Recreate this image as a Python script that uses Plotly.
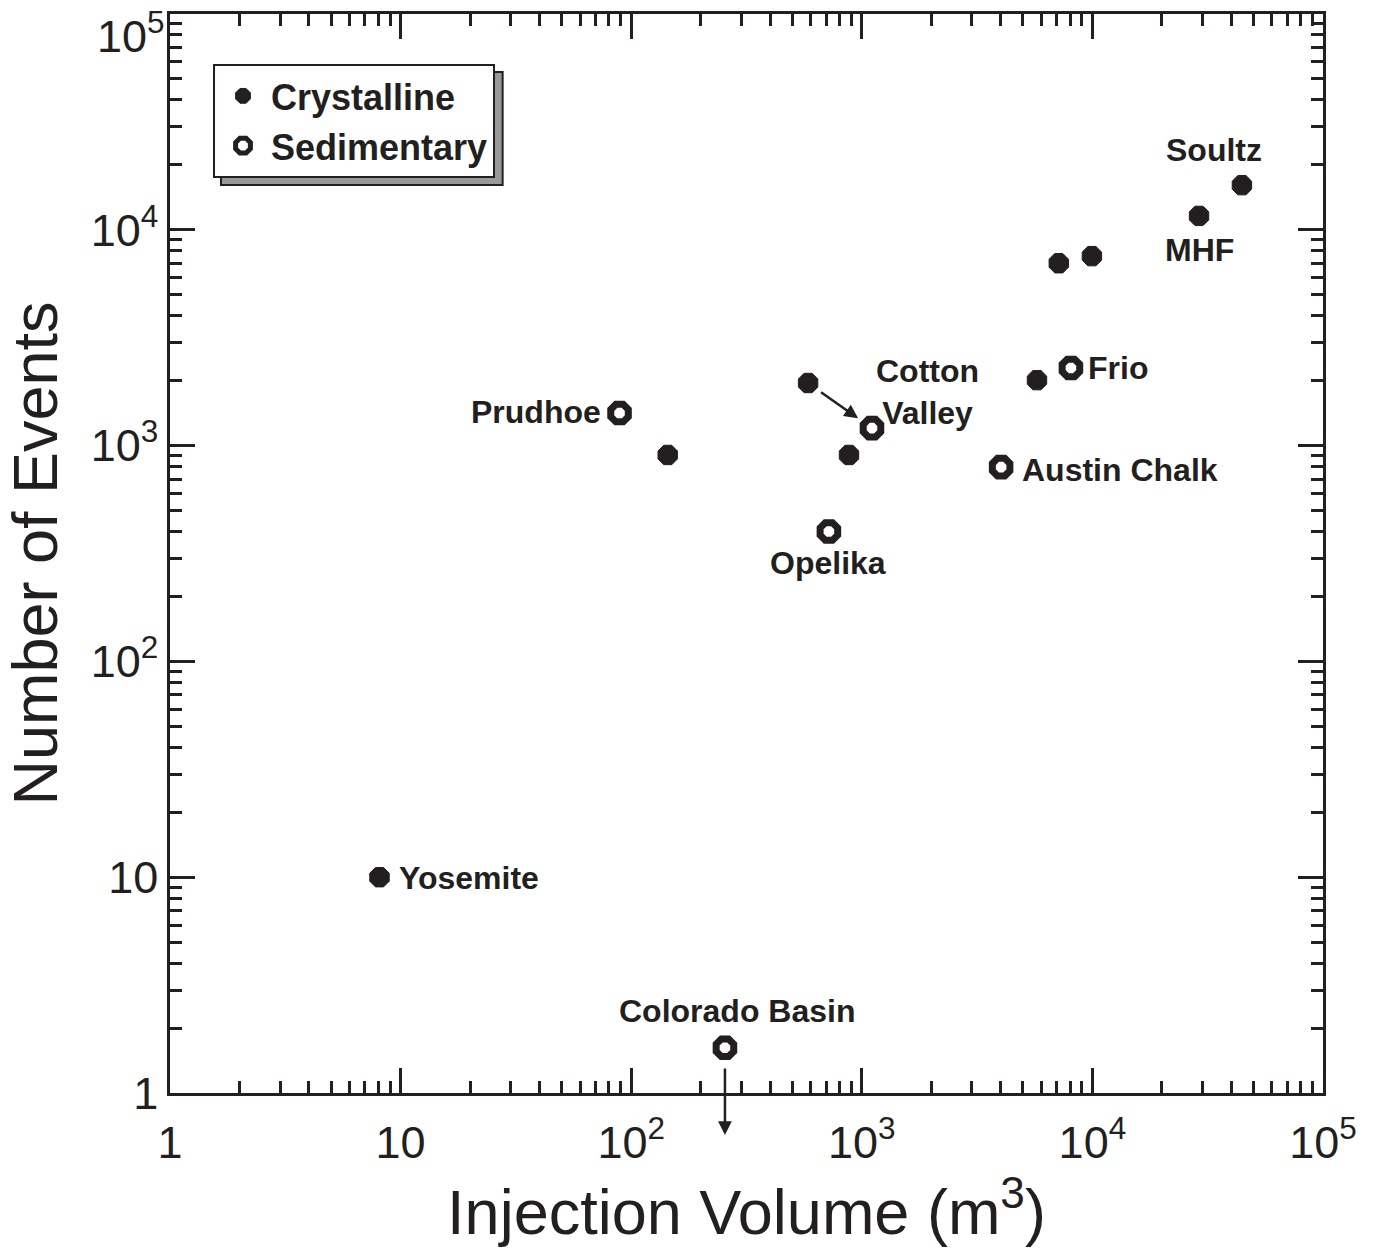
import numpy as np
import plotly.graph_objects as go

# Induced seismicity: injected volume vs. number of recorded events
cryst_x = [8.1, 144, 585, 880, 5750, 7150, 9950, 29000, 44500]
cryst_y = [10, 905, 1950, 905, 2010, 7000, 7550, 11600, 16100]

sed_x = [89, 1107, 720, 4020, 8070, 255]
sed_y = [1415, 1205, 400, 795, 2290, 1.62]

# labelled sites
site_names = ["Yosemite", "MHF", "Soultz", "Prudhoe", "Cotton<br>Valley",
              "Opelika", "Austin Chalk", "Frio", "Colorado Basin"]
site_x = [8.1, 29000, 44500, 89, 1107, 720, 4020, 8070, 255]
site_y = [10, 11600, 16100, 1415, 1205, 400, 795, 2290, 1.62]

tick_vals = [1, 10, 100, 1000, 10000, 100000]
tick_text = ["1", "10", "10<sup>2</sup>", "10<sup>3</sup>", "10<sup>4</sup>", "10<sup>5</sup>"]
minor_vals = [m * 10 ** d for d in range(5) for m in range(2, 10)]

INK = "#231f20"
FONT = "Liberation Sans, Arial, Helvetica, sans-serif"

fig = go.Figure()
fig.add_trace(go.Scatter(
    x=cryst_x, y=cryst_y, mode="markers", name="Crystalline",
    marker=dict(symbol="octagon", size=21, color=INK, line=dict(width=1, color=INK)),
))
fig.add_trace(go.Scatter(
    x=sed_x, y=sed_y, mode="markers", name="Sedimentary",
    marker=dict(symbol="octagon", size=19, color="white", line=dict(width=7, color=INK)),
))

# label placement relative to each point (pixels)
label_pos = {
    "Yosemite": dict(xanchor="left", xshift=17, yshift=-1),
    "MHF": dict(xanchor="center", xshift=0, yshift=-34),
    "Soultz": dict(xanchor="center", xshift=-28, yshift=35),
    "Prudhoe": dict(xanchor="right", xshift=-17, yshift=1),
    "Cotton<br>Valley": dict(xanchor="center", xshift=56, yshift=36),
    "Opelika": dict(xanchor="center", xshift=-1, yshift=-32),
    "Austin Chalk": dict(xanchor="left", xshift=19, yshift=-3),
    "Frio": dict(xanchor="left", xshift=15, yshift=0),
    "Colorado Basin": dict(xanchor="center", xshift=12, yshift=37),
}
for name, xv, yv in zip(site_names, site_x, site_y):
    p = label_pos[name]
    fig.add_annotation(
        x=np.log10(xv), y=np.log10(yv), xref="x", yref="y", text=name,
        showarrow=False, xanchor=p["xanchor"], yanchor="middle",
        xshift=p["xshift"], yshift=p["yshift"], align="center",
        font=dict(family=FONT, size=32, color=INK, weight="bold"),
    )

# Cotton Valley: arrow from crystalline point to sedimentary point
fig.add_annotation(
    x=np.log10(sed_x[1]), y=np.log10(sed_y[1]), xref="x", yref="y",
    ax=np.log10(cryst_x[2]), ay=np.log10(cryst_y[2]), axref="x", ayref="y",
    showarrow=True, arrowhead=2, arrowsize=1.1, arrowwidth=2.5, arrowcolor=INK,
    standoff=17, startstandoff=14, text="",
)
# Colorado Basin: upper bound arrow pointing below the axis
fig.add_annotation(
    x=np.log10(sed_x[5]), y=-0.039, xref="x", yref="paper",
    ax=0, ay=-68, showarrow=True, arrowhead=2, arrowsize=1.1,
    arrowwidth=2.5, arrowcolor=INK, text="",
)

# top y tick label, kept inside the figure
fig.add_annotation(
    x=0, y=1, xref="paper", yref="paper", text=tick_text[-1],
    showarrow=False, xanchor="right", yanchor="top", xshift=-3, yshift=12,
    font=dict(family=FONT, size=45, color=INK),
)

# legend drop shadow
fig.add_shape(type="rect", xref="paper", yref="paper",
              x0=0.0442, x1=0.2885, y0=0.8415, y1=0.9462,
              fillcolor="#999999", line=dict(color=INK, width=2), layer="below")

axis_common = dict(
    type="log", showgrid=False, zeroline=False,
    showline=True, linecolor=INK, linewidth=2.5, mirror="ticks",
    ticks="inside", ticklen=25, tickwidth=2.5, tickcolor=INK,
    tickfont=dict(family=FONT, size=45, color=INK),
    minor=dict(tickvals=minor_vals, ticks="inside", ticklen=12,
               tickwidth=2.5, tickcolor=INK, showgrid=False),
)

fig.update_xaxes(**axis_common, range=[0, 5], ticklabelstandoff=8,
                 tickvals=tick_vals, ticktext=tick_text,
                 title=dict(text="Injection Volume (m<sup>3</sup>)", standoff=22,
                            font=dict(family=FONT, size=63, color=INK)))
fig.update_yaxes(**axis_common, range=[0, 5], ticklabelstandoff=0,
                 tickvals=tick_vals[:-1], ticktext=tick_text[:-1],
                 title=dict(text="Number of Events", standoff=16,
                            font=dict(family=FONT, size=63, color=INK)))

fig.update_layout(
    width=1380, height=1253,
    margin=dict(l=170, r=57, t=14, b=160),
    plot_bgcolor="white", paper_bgcolor="white",
    showlegend=True,
    legend=dict(
        x=0.0373, y=0.9537, xanchor="left", yanchor="top",
        bgcolor="white", bordercolor=INK, borderwidth=2,
        font=dict(family=FONT, size=36, color=INK, weight="bold"),
        tracegroupgap=0, itemwidth=46,
    ),
)

fig.write_html("out.html")
